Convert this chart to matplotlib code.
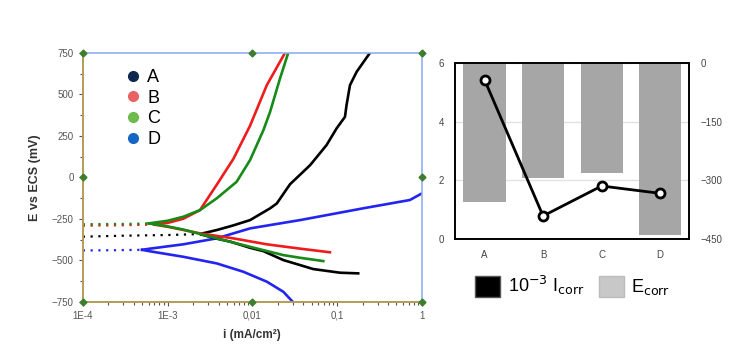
import matplotlib
matplotlib.use("Agg")
import matplotlib.pyplot as plt
import matplotlib.patches as mpatches
from matplotlib.lines import Line2D
from matplotlib.ticker import FixedLocator, LogLocator, NullFormatter, MultipleLocator

plt.rcParams["font.family"] = ["Liberation Sans", "DejaVu Sans"]

# --- Tafel curves (i in mA/cm2, E in mV vs ECS) ---
# A
a_rest_i = [1e-4, 3e-4, 1e-3, 2.5e-3]
a_rest_e = [-358, -352, -348, -342]
a_ano_i = [2.5e-3, 3.8e-3, 5.96e-3, 9.4e-3, 0.0162, 0.0194, 0.0278, 0.048, 0.075,
           0.0986, 0.1236, 0.129, 0.1416, 0.17, 0.244]
a_ano_e = [-340, -318, -290, -258, -187, -158, -42, 73, 194, 295, 364, 435, 555, 636, 750]
a_cat_i = [2.5e-3, 3.8e-3, 5.5e-3, 9.4e-3, 0.0135, 0.0232, 0.0365, 0.0522, 0.108, 0.177]
a_cat_e = [-345, -370, -388, -425, -445, -499, -529, -553, -575, -579]
# B
b_rest_i = [1e-4, 3e-4, 7e-4]
b_rest_e = [-292, -289, -285]
b_ano_i = [7e-4, 1e-3, 1.53e-3, 2.41e-3, 3.8e-3, 5.96e-3, 9.38e-3, 0.0148, 0.0243]
b_ano_e = [-285, -275, -250, -198, -45, 110, 310, 555, 750]
b_cat_i = [7e-4, 1e-3, 2.41e-3, 5.96e-3, 0.0148, 0.0365, 0.0822]
b_cat_e = [-285, -298, -338, -368, -404, -430, -452]
# C
c_rest_i = [1e-4, 3e-4, 6e-4]
c_rest_e = [-283, -281, -278]
c_ano_i = [6e-4, 1e-3, 1.53e-3, 2.41e-3, 3.8e-3, 6.53e-3, 9.4e-3, 0.0135, 0.0162, 0.0212, 0.0265]
c_ano_e = [-278, -262, -238, -198, -127, -27, 104, 284, 395, 596, 750]
c_cat_i = [6e-4, 1e-3, 1.53e-3, 3.8e-3, 9.4e-3, 0.0232, 0.0365, 0.0686]
c_cat_e = [-278, -296, -315, -368, -419, -469, -485, -505]
# D
d_rest_i = [1e-4, 2e-4, 5e-4]
d_rest_e = [-441, -440, -437]
d_ano_i = [5e-4, 6.2e-4, 1.53e-3, 3.8e-3, 9.4e-3, 0.0365, 0.203, 0.72, 1.0]
d_ano_e = [-437, -430, -404, -368, -308, -258, -187, -137, -97]
d_cat_i = [5e-4, 6.2e-4, 1.53e-3, 3.8e-3, 7.8e-3, 0.0148, 0.0232, 0.0304]
d_cat_e = [-437, -446, -479, -519, -569, -629, -690, -754]

# --- bar / line chart ---
samples = ["A", "B", "C", "D"]
icorr = [5.43, 0.79, 1.81, 1.56]       # 10^-3 Icorr
ecorr = [-356, -293, -282, -439]       # mV

# green corner markers of the original plot frame
frame_i = [1e-4, 1e-2, 1, 1e-4, 1, 1e-4, 1e-2, 1]
frame_e = [750, 750, 750, 0, 0, -750, -750, -750]

COR = {"A": "#000000", "B": "#ee1c1c", "C": "#178a17", "D": "#2424f0"}
LEG = {"A": "#0d2750", "B": "#e86464", "C": "#6cbb4c", "D": "#1566c4"}

fig = plt.figure(figsize=(7.39, 3.64), dpi=100)

# ---------- left: polarization curves ----------
ax = fig.add_axes([0.112, 0.171, 0.459, 0.684])
curvas = {
    "A": (a_rest_i, a_rest_e, a_ano_i, a_ano_e, a_cat_i, a_cat_e),
    "B": (b_rest_i, b_rest_e, b_ano_i, b_ano_e, b_cat_i, b_cat_e),
    "C": (c_rest_i, c_rest_e, c_ano_i, c_ano_e, c_cat_i, c_cat_e),
    "D": (d_rest_i, d_rest_e, d_ano_i, d_ano_e, d_cat_i, d_cat_e),
}
for k in ["D", "A", "B", "C"]:
    ri, re_, ai, ae, ci, ce = curvas[k]
    ax.plot(ri, re_, color=COR[k], lw=1.6, ls=(0, (1, 2.5)))
    ax.plot(ai, ae, color=COR[k], lw=1.9, solid_joinstyle="round")
    ax.plot(ci, ce, color=COR[k], lw=1.9, solid_joinstyle="round")

ax.set_xscale("log")
ax.set_xlim(1e-4, 1)
ax.set_ylim(-750, 750)
ax.xaxis.set_major_locator(FixedLocator([1e-4, 1e-3, 1e-2, 1e-1, 1]))
ax.set_xticklabels(["1E-4", "1E-3", "0,01", "0,1", "1"])
ax.xaxis.set_minor_locator(LogLocator(base=10, subs=range(2, 10)))
ax.xaxis.set_minor_formatter(NullFormatter())
ax.yaxis.set_major_locator(MultipleLocator(250))
ax.yaxis.set_minor_locator(MultipleLocator(125))
ax.tick_params(axis="both", which="major", labelsize=7, labelcolor="#555555",
               color="#555555", length=3, width=0.8, direction="out")
ax.tick_params(axis="both", which="minor", color="#555555", length=2, width=0.8,
               direction="out")
for s in ["left", "bottom"]:
    ax.spines[s].set_color("#b39c55")
    ax.spines[s].set_linewidth(1.4)
for s in ["top", "right"]:
    ax.spines[s].set_color("#8fb0f2")
    ax.spines[s].set_linewidth(1.2)
ax.plot(frame_i, frame_e, ls="none", marker="D", ms=3.5, color="#3f7d2e",
        clip_on=False, zorder=5)
ax.set_ylabel("E vs ECS (mV)", fontsize=9, color="#333333", fontweight="bold", labelpad=8)
ax.set_xlabel("i (mA/cm²)", fontsize=8.5, color="#333333", fontweight="bold", labelpad=6)

handles = [Line2D([], [], ls="none", marker="o", ms=7, color=LEG[k]) for k in samples]
ax.legend(handles, samples, loc="upper left", bbox_to_anchor=(0.07, 1.0),
          frameon=False, fontsize=13, handletextpad=0.25, labelspacing=0.2,
          handlelength=1.1)

# ---------- right: Ecorr bars + Icorr line ----------
axl = fig.add_axes([0.616, 0.343, 0.317, 0.484])
axr = axl.twinx()
x = range(len(samples))
axr.bar(x, ecorr, width=0.72, color="#a6a6a6", zorder=2)
axr.set_ylim(-450, 0)
axr.set_yticks([0, -150, -300, -450])
axr.yaxis.grid(True, color="#e2e2e2", lw=1, zorder=0)
axr.set_axisbelow(True)

axl.plot(x, icorr, color="black", lw=2, marker="o", ms=6.5,
         mfc="white", mec="black", mew=2, zorder=5)
axl.set_ylim(0, 6)
axl.set_yticks([0, 2, 4, 6])
axl.set_xlim(-0.5, 3.5)
axl.set_xticks(list(x))
axl.set_xticklabels(samples)
axl.set_zorder(axr.get_zorder() + 1)
axl.patch.set_visible(False)
for a in (axl, axr):
    a.tick_params(length=0, labelsize=7, labelcolor="#444444", pad=8)
    for s in a.spines.values():
        s.set_color("black")
        s.set_linewidth(1.2)

leg_h = [mpatches.Patch(facecolor="black", edgecolor="#555555"),
         mpatches.Patch(facecolor="#c8c8c8", edgecolor="#bbbbbb")]
fig.legend(leg_h, ["10$^{-3}$ I$_{\\rm corr}$", "E$_{\\rm corr}$"],
           loc="center", bbox_to_anchor=(0.775, 0.215), ncol=2, frameon=False,
           fontsize=13, handlelength=1.4, handleheight=1.4, handletextpad=0.4,
           columnspacing=0.8)

fig.savefig("out.png", dpi=100)
